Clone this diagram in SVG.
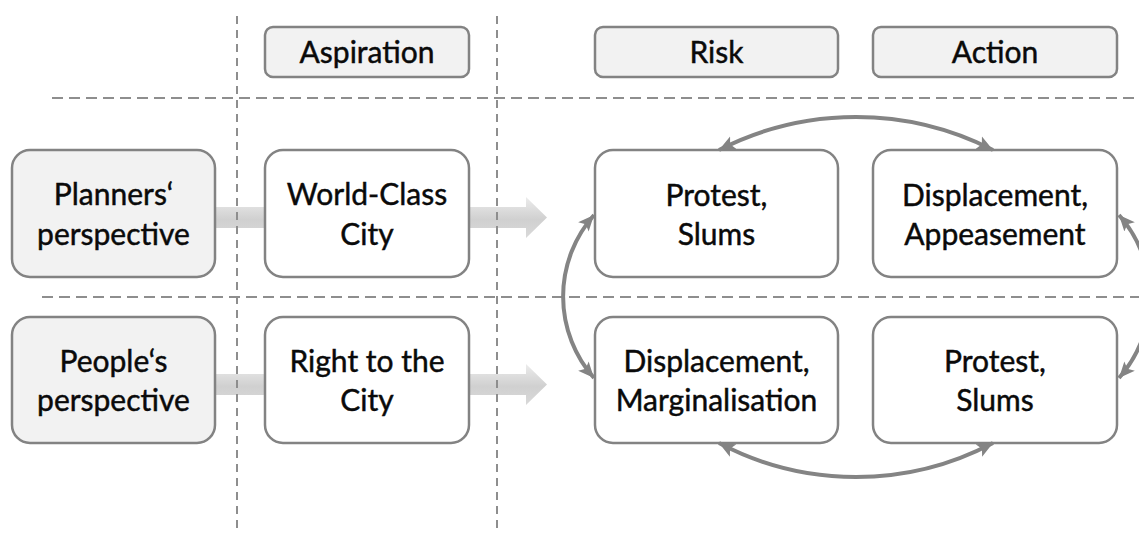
<svg xmlns="http://www.w3.org/2000/svg" width="1139" height="533" viewBox="0 0 1139 533">
  <style>
    .box { stroke: #838383; stroke-width: 2.5; }
    .head { fill: #f2f2f2; }
    .side { fill: #f2f2f2; }
    .plain { fill: #ffffff; }
    .lbl { font-family: Lato, "Liberation Sans", sans-serif; font-size: 30px; fill: #0a0a0a; stroke: #0a0a0a; stroke-width: 0.45; text-anchor: middle; }
    .grid { stroke: #8e8e8e; stroke-width: 2; fill: none; }
    .gh { stroke-dasharray: 11 6; }
    .gv { stroke-dasharray: 8 6; }
    .loop { fill: none; stroke: #848484; stroke-width: 4; marker-start: url(#tip); marker-end: url(#tip); }
  </style>
  <defs>
    <linearGradient id="shaft" x1="0" y1="0" x2="0" y2="1">
      <stop offset="0" stop-color="#ececec"/>
      <stop offset="0.55" stop-color="#d0d0d0"/>
      <stop offset="1" stop-color="#d9d9d9"/>
    </linearGradient>
    <marker id="tip" markerUnits="userSpaceOnUse" markerWidth="18" markerHeight="16" refX="16" refY="8" orient="auto-start-reverse">
      <path d="M0,1 L16,8 L0,15 L3.5,8 Z" fill="#848484"/>
    </marker>
  </defs>

  <rect width="1139" height="533" fill="#ffffff"/>

  <!-- connectors -->
  <g id="connectors">
    <!-- block arrows from the perspectives through the aspirations -->
    <path id="arrow-planners" d="M215,207 H526 V197 L547,217.5 L526,238 V228 H215 Z" fill="url(#shaft)"/>
    <path id="arrow-people" d="M215,374 H526 V364 L547,384.5 L526,405 V395 H215 Z" fill="url(#shaft)"/>
  </g>

  <!-- dashed grid -->
  <g id="grid">
    <line class="grid gh" x1="52" y1="98" x2="1139" y2="98"/>
    <line class="grid gh" x1="42" y1="297" x2="1139" y2="297"/>
    <line class="grid gv" x1="237" y1="16" x2="237" y2="529"/>
    <line class="grid gv" x1="497" y1="16" x2="497" y2="529"/>
  </g>

  <!-- column headers -->
  <g id="hdr-aspiration">
    <rect class="box head" x="265" y="27" width="204" height="50" rx="8"/>
    <text class="lbl" x="367" y="63">Aspiration</text>
  </g>
  <g id="hdr-risk">
    <rect class="box head" x="595" y="27" width="243" height="50" rx="8"/>
    <text class="lbl" x="716.5" y="63">Risk</text>
  </g>
  <g id="hdr-action">
    <rect class="box head" x="873" y="27" width="244" height="50" rx="8"/>
    <text class="lbl" x="995" y="63">Action</text>
  </g>

  <!-- planners row -->
  <g id="planners">
    <rect class="box side" x="12" y="150" width="203" height="127" rx="18"/>
    <text class="lbl" x="113.5" y="205">Planners‘</text>
    <text class="lbl" x="113.5" y="245">perspective</text>
  </g>
  <g id="world-class-city">
    <rect class="box plain" x="265" y="150" width="204" height="127" rx="18"/>
    <text class="lbl" x="367" y="205">World-Class</text>
    <text class="lbl" x="367" y="245">City</text>
  </g>
  <g id="risk-protest">
    <rect class="box plain" x="595" y="150" width="243" height="127" rx="18"/>
    <text class="lbl" x="716.5" y="206">Protest,</text>
    <text class="lbl" x="716.5" y="245">Slums</text>
  </g>
  <g id="action-displacement">
    <rect class="box plain" x="873" y="150" width="244" height="127" rx="18"/>
    <text class="lbl" x="995" y="206">Displacement,</text>
    <text class="lbl" x="995" y="245">Appeasement</text>
  </g>

  <!-- people row -->
  <g id="people">
    <rect class="box side" x="12" y="317" width="203" height="126" rx="18"/>
    <text class="lbl" x="113.5" y="372">People‘s</text>
    <text class="lbl" x="113.5" y="411">perspective</text>
  </g>
  <g id="right-to-city">
    <rect class="box plain" x="265" y="317" width="204" height="126" rx="18"/>
    <text class="lbl" x="367" y="372">Right to the</text>
    <text class="lbl" x="367" y="411">City</text>
  </g>
  <g id="risk-displacement">
    <rect class="box plain" x="595" y="317" width="243" height="126" rx="18"/>
    <text class="lbl" x="716.5" y="372">Displacement,</text>
    <text class="lbl" x="716.5" y="411">Marginalisation</text>
  </g>
  <g id="action-protest">
    <rect class="box plain" x="873" y="317" width="244" height="126" rx="18"/>
    <text class="lbl" x="995" y="372">Protest,</text>
    <text class="lbl" x="995" y="411">Slums</text>
  </g>

  <!-- feedback loop between risk and action -->
  <g id="loop-connectors">
    <path class="loop" d="M719,150 A301,301 0 0 1 993,150"/>
    <path class="loop" d="M1119,215 A123,123 0 0 1 1119,378"/>
    <path class="loop" d="M993,443 A293,293 0 0 1 719,443"/>
    <path class="loop" d="M594,378 A123,123 0 0 1 594,215"/>
  </g>
</svg>
